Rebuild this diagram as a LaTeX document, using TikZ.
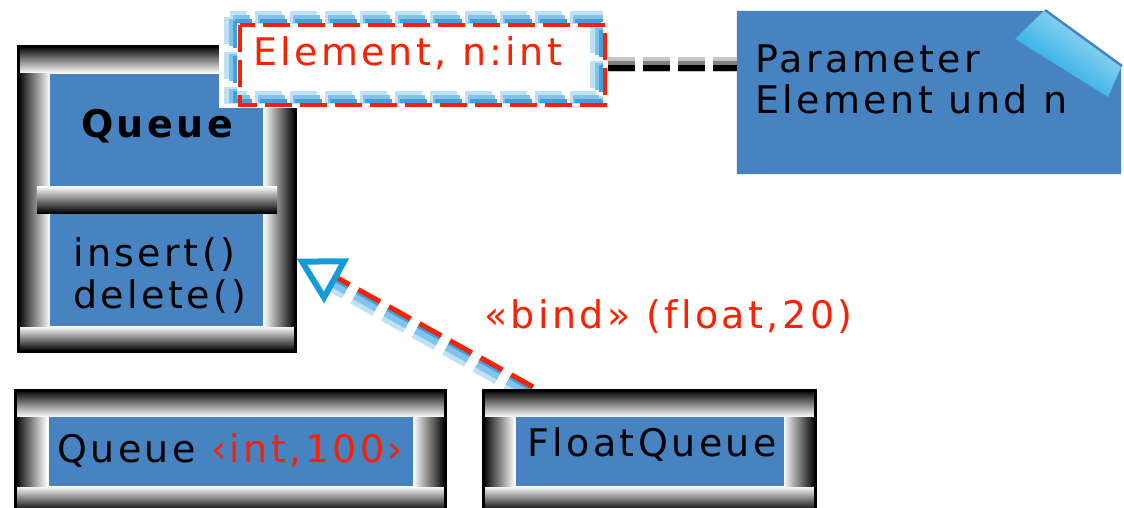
\documentclass[tikz,border=0pt]{standalone}
\usepackage{fontspec}
\setmainfont{DejaVu Sans}[LetterSpace=9, Ligatures=NoCommon]
\usetikzlibrary{arrows.meta,fit,calc}

\definecolor{umlblue}{RGB}{70,131,192}
\definecolor{umlred}{RGB}{250,32,0}
\definecolor{bandlight}{RGB}{190,225,245}
\definecolor{bandmid}{RGB}{130,195,235}
\definecolor{banddark}{RGB}{60,160,225}
\definecolor{tipblue}{RGB}{20,155,220}
\definecolor{foldlight}{RGB}{175,225,245}
\definecolor{folddark}{RGB}{10,160,225}

\newcommand{\umlfont}{\fontsize{38}{41}\selectfont}

% bevelled frame round a class box: name, x1, y1, x2, y2 (outer corners)
\newcommand{\bevelframe}[5]{%
  \shade[top color=black, bottom color=white] (#2,#3) rectangle (#4,#3+27);
  \shade[top color=white, bottom color=black] (#2,#5-25) rectangle (#4,#5);
  \shade[left color=black, right color=white] (#2,#3+27) rectangle (#2+32,#5-25);
  \shade[left color=white, right color=black] (#4-32,#3+27) rectangle (#4,#5-25);
  \node[frameline, fit={(#2,#3) (#4,#5)}] (#1) {};
}

\begin{document}
\begin{tikzpicture}[
    x=1pt, y=-1pt,
    frameline/.style={draw=black, line width=3pt, inner sep=0pt},
    compartment/.style={fill=umlblue, inner sep=0pt},
    umltext/.style={font=\umlfont, inner sep=0pt},
    tpband/.style={dash pattern=on 27pt off 8pt},
    linkband/.style={dash pattern=on 27pt off 8pt},
    bindband/.style={dash pattern=on 25pt off 10pt}
  ]
  \useasboundingbox (0,0) rectangle (1124,507);

  % class Queue
  \bevelframe{queue}{18}{46}{295}{351}
  \node[compartment, fit={(50,74) (263,186)}] (queuehead) {};
  \node[compartment, fit={(50,213) (263,326)}] (queuebody) {};
  \shade[top color=white, bottom color=black] (37,186) rectangle (277,213);
  \node[umltext, font=\umlfont\bfseries, anchor=base] (queuename) at (157,137) {Queue};
  \node[umltext, anchor=base west] (insertop) at (73,266) {insert()};
  \node[umltext, anchor=base west] (deleteop) at (73,308) {delete()};

  % template parameters
  \node[fill=white, inner sep=0pt, fit={(219,10) (608,108)}] (tparam) {};
  \draw[tpband, bandlight, line width=13pt] (230,17) rectangle (596,97);
  \draw[tpband, bandmid, line width=8pt] (233,19) rectangle (599,99);
  \draw[tpband, banddark, line width=4pt] (235,21) rectangle (601,101);
  \draw[tpband, umlred, line width=4pt] (240,25) rectangle (605,105);
  \node[umltext, text=umlred, anchor=base west] (tparamtext) at (253,65) {Element, n:int};

  % note
  \node[inner sep=0pt, fit={(737,11) (1121,174)}] (note) {};
  \fill[umlblue] (note.south west) -- (note.north west) -- (1045,11) -- (1121,66) -- (note.south east) -- cycle;
  \shade[top color=foldlight, bottom color=folddark, shading angle=-35] (1045,10) -- (1122,65) -- (1108,97) -- (1015,39) -- cycle;
  \draw[umlblue, line width=2.5pt] (1045,10) -- (1122,66);
  \node[umltext, anchor=base west] (notetop) at (755,72) {Parameter};
  \node[umltext, anchor=base west] (notebottom) at (755,113) {Element und n};

  % link template -- note
  \draw[linkband, gray!45, line width=15pt] ($(tparam.east)+(0,5)$) -- ($(tparam.east -| note.west)+(0,5)$);
  \draw[linkband, gray, line width=10pt] ($(tparam.east)+(0,7)$) -- ($(tparam.east -| note.west)+(0,7)$);
  \draw[linkband, black, line width=6pt] ($(tparam.east)+(0,9)$) -- ($(tparam.east -| note.west)+(0,9)$);

  % bind realization
  \draw[bindband, bandlight, line width=8pt, shorten >=46pt, transform canvas={shift={(-4.4,7.9)}}]
    ($(queue.east)+(235,191)$) -- ($(queue.east)+(0,60)$);
  \draw[bindband, bandmid, line width=6pt, shorten >=46pt, transform canvas={shift={(-2.4,4.4)}}]
    ($(queue.east)+(235,191)$) -- ($(queue.east)+(0,60)$);
  \draw[bindband, banddark, line width=4pt, -{Triangle[open, length=46pt, width=50pt, line width=6pt, color=tipblue]}]
    ($(queue.east)+(235,191)$) -- ($(queue.east)+(0,60)$);
  \draw[bindband, umlred, line width=5pt, shorten >=46pt, transform canvas={shift={(1.5,-2.6)}}]
    ($(queue.east)+(235,191)$) -- ($(queue.east)+(0,60)$);
  \node[umltext, text=umlred, anchor=base west] (bindlabel) at (484,328) {«bind» (float,20)};

  % bound classes
  \bevelframe{queueinst}{15}{390}{445}{511}
  \node[compartment, fit={(49,417) (413,486)}] (queueinstbody) {};
  \node[umltext, anchor=base west] (queueinsttext) at (57,462) {Queue \textcolor{umlred}{‹int,100›}};

  \bevelframe{floatqueue}{483}{390}{815}{511}
  \node[compartment, fit={(516,417) (784,486)}] (floatqueuebody) {};
  \node[umltext, anchor=base west] (floatqueuetext) at (527,456) {FloatQueue};
\end{tikzpicture}
\end{document}
